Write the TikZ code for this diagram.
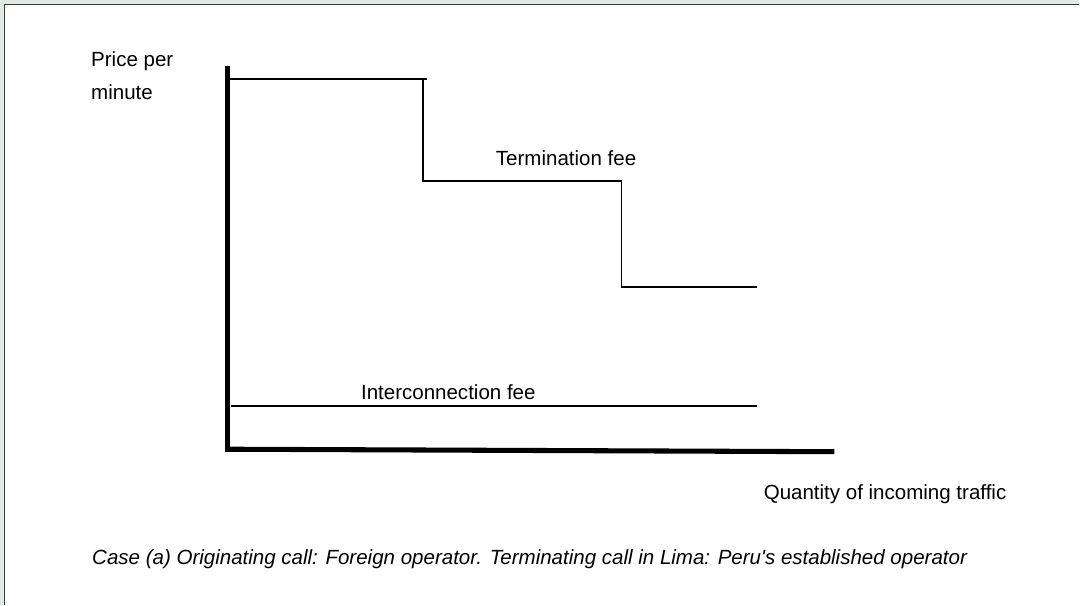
\documentclass[tikz,border=0pt]{standalone}
\usepackage{fontspec}
\setmainfont{Liberation Sans}
\usetikzlibrary{positioning}
\definecolor{framebg}{HTML}{E3EAE6}
\definecolor{frameline}{HTML}{3A3A3A}
\tikzset{axisline/.style = {line width = 3.6pt},
  feeline/.style = {line width = 1.1pt},
  lbl/.style = {inner sep = 0, anchor = base west, font = \fontsize{14.6}{17}\selectfont}}

\begin{document}
\begin{tikzpicture}[x=0.025cm, y=-0.025cm]
          \fill [framebg] (0, 0) rectangle (1080, 605);
          \fill [white] (5, 5) rectangle (1080, 605);
          \draw [frameline, line width = 1pt] (4.5, 605) -- (4.5, 4.5) -- (1080, 4.5);
          \useasboundingbox (0, 0) rectangle (1080, 605);

          \coordinate (ytop) at (228, 66);
          \coordinate (ybot) at (228, 452);
          \coordinate (xleft) at (228, 449.5);
          \coordinate (xright) at (835, 452);

          \coordinate (t0) at (229, 79);
          \coordinate (t1) at (427, 79);
          \coordinate (t2) at (423, 79);
          \coordinate (t3) at (423, 181);
          \coordinate (t4) at (622, 181);
          \coordinate (t5) at (622, 287);
          \coordinate (t6) at (757, 287);

          \coordinate (i0) at (231, 406);
          \coordinate (i1) at (757, 406);

          \node [lbl] (price) at (91, 67) {Price per};
          \node [lbl] (minute) at (91, 100) {minute};
          \node [lbl] (term) at (496, 166) {Termination fee};
          \node [lbl] (inter) at (361, 400) {Interconnection fee};
          \node [lbl] (qty) at (764, 500) {Quantity of incoming traffic};
          \node [lbl, font = \fontsize{14.6}{17}\selectfont\itshape] (caption) at (92, 565)
            {Case (a) Originating call: Foreign operator. Terminating call in Lima: Peru\textquotesingle s established operator};

          \draw [axisline] (ytop) -- (ybot);
          \draw [axisline] (xleft) -- (xright);

          \draw [feeline] (t0) -- (t1);
          \draw [feeline] (t2) -- (t3) -- (t4) -- (t5) -- (t6);
          \draw [feeline] (i0) -- (i1);
        \end{tikzpicture}
\end{document}
